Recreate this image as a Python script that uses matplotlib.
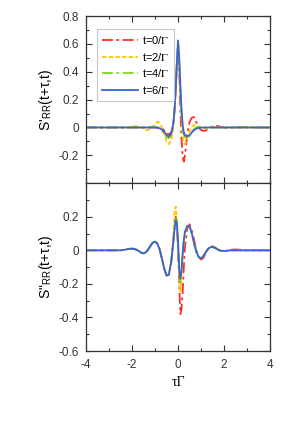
import matplotlib
matplotlib.use("Agg")
import matplotlib.pyplot as plt
from matplotlib.ticker import MultipleLocator

plt.rcParams['font.family'] = ['Liberation Sans', 'DejaVu Sans']
plt.rcParams['mathtext.fontset'] = 'stix'

# tau*Gamma grid
tau = [-4, -3.5, -3,
       -2.5, -2.4, -2.3, -2.2, -2.1, -2.0, -1.9, -1.8, -1.7, -1.6, -1.5, -1.4, -1.3, -1.2, -1.1,
       -1.0, -0.9, -0.8, -0.7, -0.6, -0.5, -0.4, -0.3,
       -0.25, -0.2, -0.15, -0.1, -0.05, 0.0, 0.05, 0.1, 0.15, 0.2, 0.25,
       0.3, 0.4, 0.5, 0.6, 0.7, 0.8, 0.9, 1.0, 1.1, 1.2, 1.3, 1.4, 1.5, 1.6, 1.7, 1.8, 1.9,
       2.0, 2.1, 2.2, 2.3, 2.4, 2.5,
       3.0, 3.5, 4.0]

labels = ["t=0/$\\Gamma$", "t=2/$\\Gamma$", "t=4/$\\Gamma$", "t=6/$\\Gamma$"]

# S'_RR  (upper panel)
re_t0 = [0, 0, 0,
         0, 0, 0, 0, 0, 0, 0, 0, 0, 0, 0, 0, 0, 0, 0,
         0, -0.001, -0.003, -0.008, -0.02, -0.04, -0.05, -0.035,
         -0.01, 0.04, 0.13, 0.28, 0.46, 0.60, 0.42, 0.15, -0.08, -0.21, -0.245,
         -0.20, -0.05, 0.04, 0.07, 0.075, 0.035, 0.0, -0.018, -0.025, -0.022, -0.012, 0.0, 0.008, 0.012, 0.012, 0.008, 0.003,
         -0.001, -0.003, -0.003, -0.002, 0.0, 0.002,
         0.002, 0.0, 0.0]
re_t2 = [0, 0, 0,
         0, -0.001, -0.002, -0.001, 0.002, 0.006, 0.009, 0.010, 0.006, -0.002, -0.010, -0.017, -0.018, -0.010, 0.008,
         0.028, 0.040, 0.032, 0.0, -0.05, -0.10, -0.12, -0.09,
         -0.05, 0.02, 0.12, 0.28, 0.47, 0.62, 0.48, 0.26, 0.07, -0.06, -0.11,
         -0.12, -0.08, -0.03, 0.005, 0.018, 0.015, 0.006, -0.002, -0.006, -0.005, -0.002, 0.0, 0, 0, 0, 0, 0,
         0, 0, 0, 0, 0, 0,
         0, 0, 0]
re_t4 = [0, 0, 0,
         0, 0, 0, 0, 0, 0, 0, 0, 0, 0, 0, 0, 0, 0.001, 0.003,
         0.005, 0.003, -0.006, -0.022, -0.045, -0.070, -0.078, -0.05,
         -0.015, 0.04, 0.13, 0.28, 0.46, 0.61, 0.49, 0.29, 0.11, 0.0, -0.05,
         -0.07, -0.078, -0.06, -0.032, -0.01, 0.002, 0.004, 0.002, 0, 0, 0, 0, 0, 0, 0, 0, 0,
         0, 0, 0, 0, 0, 0,
         0, 0, 0]
re_t6 = [0, 0, 0,
         0, 0, 0, 0, 0, 0, 0, 0, 0, 0, 0, 0, 0, 0, 0,
         0, -0.002, -0.006, -0.014, -0.03, -0.054, -0.066, -0.045,
         -0.015, 0.04, 0.13, 0.28, 0.47, 0.625, 0.50, 0.30, 0.13, 0.02, -0.035,
         -0.055, -0.064, -0.055, -0.035, -0.018, -0.008, -0.003, -0.001, 0, 0, 0, 0, 0, 0, 0, 0, 0,
         0, 0, 0, 0, 0, 0,
         0, 0, 0]

# S''_RR  (lower panel)
im_t0 = [0, 0, 0,
         0, 0.002, 0.004, 0.007, 0.009, 0.010, 0.008, 0.003, -0.005, -0.014, -0.018, -0.012, 0.005, 0.027, 0.046,
         0.052, 0.040, 0.005, -0.05, -0.11, -0.15, -0.145, -0.07,
         -0.01, 0.07, 0.15, 0.20, 0.15, 0.0, -0.20, -0.38, -0.35, -0.25, -0.10,
         0.02, 0.13, 0.155, 0.12, 0.06, 0.0, -0.04, -0.055, -0.045, -0.02, 0.005, 0.02, 0.024, 0.018, 0.008, 0.0, -0.004,
         -0.005, -0.003, 0.0, 0.003, 0.005, 0.005,
         0.002, 0.0, 0.0]
im_t2 = [0, 0, 0,
         0, 0.002, 0.004, 0.007, 0.009, 0.010, 0.008, 0.003, -0.005, -0.014, -0.018, -0.012, 0.005, 0.027, 0.046,
         0.052, 0.040, 0.005, -0.05, -0.11, -0.15, -0.145, -0.07,
         0.0, 0.10, 0.24, 0.26, 0.18, 0.02, -0.17, -0.245, -0.17, -0.04, 0.05,
         0.10, 0.145, 0.145, 0.10, 0.04, -0.01, -0.04, -0.048, -0.035, -0.012, 0.008, 0.018, 0.02, 0.015, 0.007, 0.0, -0.003,
         -0.004, -0.003, -0.001, 0.0, 0, 0,
         0, 0, 0]
im_t4 = [0, 0, 0,
         0, 0.002, 0.004, 0.007, 0.009, 0.010, 0.008, 0.003, -0.005, -0.014, -0.018, -0.012, 0.005, 0.027, 0.046,
         0.052, 0.040, 0.005, -0.05, -0.11, -0.15, -0.145, -0.07,
         -0.01, 0.06, 0.14, 0.19, 0.17, 0.05, -0.12, -0.19, -0.13, -0.025, 0.055,
         0.11, 0.145, 0.145, 0.10, 0.04, -0.01, -0.04, -0.048, -0.035, -0.012, 0.008, 0.018, 0.02, 0.015, 0.007, 0.0, -0.003,
         -0.004, -0.003, -0.001, 0.0, 0, 0,
         0, 0, 0]
im_t6 = [0, 0, 0,
         0, 0.002, 0.004, 0.007, 0.009, 0.010, 0.008, 0.003, -0.005, -0.014, -0.018, -0.012, 0.005, 0.027, 0.046,
         0.052, 0.040, 0.005, -0.05, -0.11, -0.15, -0.145, -0.07,
         -0.01, 0.06, 0.13, 0.18, 0.16, 0.05, -0.11, -0.17, -0.12, -0.02, 0.06,
         0.11, 0.145, 0.145, 0.10, 0.04, -0.01, -0.04, -0.048, -0.035, -0.012, 0.008, 0.018, 0.02, 0.015, 0.007, 0.0, -0.003,
         -0.004, -0.003, -0.001, 0.0, 0, 0,
         0, 0, 0]

xticks = [-4, -2, 0, 2, 4]
xticklabels = ["-4", "-2", "0", "2", "4"]
top_yticks = [-0.2, 0, 0.2, 0.4, 0.6, 0.8]
top_yticklabels = ["-0.2", "0", "0.2", "0.4", "0.6", "0.8"]
bot_yticks = [-0.6, -0.4, -0.2, 0, 0.2]
bot_yticklabels = ["-0.6", "-0.4", "-0.2", "0", "0.2"]

colors = ['#ff2a2a', '#ffc400', '#78dc1e', '#3a62d8']
styles = [(0, (6, 2, 1.5, 2)), (0, (2.5, 1.2)), (0, (6, 2, 1.5, 2)), '-']

fig = plt.figure(figsize=(3, 4.24), dpi=100)
ax1 = fig.add_axes([0.287, 0.568, 0.613, 0.394])
ax2 = fig.add_axes([0.287, 0.172, 0.613, 0.396])

for s, c, ls, lab in zip([re_t0, re_t2, re_t4, re_t6], colors, styles, labels):
    ax1.plot(tau, s, color=c, ls=ls, lw=1.3, label=lab)
for s, c, ls in zip([im_t0, im_t2, im_t4, im_t6], colors, styles):
    ax2.plot(tau, s, color=c, ls=ls, lw=1.3)

for ax in (ax1, ax2):
    ax.set_xlim(-4, 4)
    ax.xaxis.set_minor_locator(MultipleLocator(1))
    ax.yaxis.set_minor_locator(MultipleLocator(0.1))
    ax.tick_params(which='both', direction='in', top=True, right=True, labelsize=8.5, width=0.8, colors='#333333')
    ax.tick_params(axis='y', which='major', pad=5)
    ax.tick_params(axis='x', which='major', pad=6)
    ax.tick_params(which='major', length=4)
    ax.tick_params(which='minor', length=2.5)
    for sp in ax.spines.values():
        sp.set_linewidth(0.9)
        sp.set_color('#333333')

ax1.set_ylim(-0.4, 0.8)
ax1.set_yticks(top_yticks)
ax1.set_yticklabels(top_yticklabels)
ax1.set_xticks(xticks)
ax1.set_xticklabels([])
ax1.set_ylabel("S'$_{\\mathregular{RR}}$(t+τ,t)", fontsize=10, labelpad=3)

ax2.set_ylim(-0.6, 0.4)
ax2.set_yticks(bot_yticks)
ax2.set_yticklabels(bot_yticklabels)
ax2.set_xticks(xticks)
ax2.set_xticklabels(xticklabels)
ax2.set_ylabel("S\"$_{\\mathregular{RR}}$(t+τ,t)", fontsize=10, labelpad=3)
ax2.set_xlabel("τΓ", fontsize=10, family=['Liberation Serif', 'DejaVu Serif'], labelpad=3)

leg = ax1.legend(loc='upper left', fontsize=8, handlelength=3.2, borderpad=0.45,
                 labelspacing=0.4, handletextpad=0.4, fancybox=False,
                 bbox_to_anchor=(0.03, 0.955))
leg.get_frame().set_edgecolor('#bbbbbb')
leg.get_frame().set_linewidth(0.8)

fig.savefig("out.png", dpi=100)
